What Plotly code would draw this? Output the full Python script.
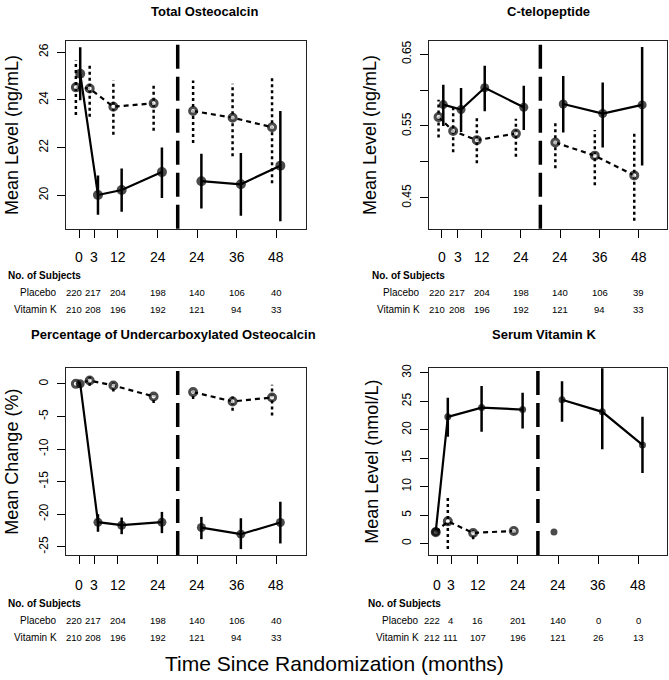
import plotly.graph_objects as go

# ---------------- data ----------------
month_labels = ["0", "3", "12", "24", "24", "36", "48"]

# Total osteocalcin (ng/mL)
oc_placebo = [24.52, 24.47, 23.71, 23.85, 23.53, 23.25, 22.85]
oc_placebo_lo = [23.36, 23.29, 22.53, 22.70, 22.19, 21.63, 20.50]
oc_placebo_hi = [25.64, 25.53, 24.81, 24.67, 24.81, 24.67, 25.02]
oc_vitk = [25.09, 20.01, 20.22, 20.97, 20.59, 20.46, 21.24]
oc_vitk_lo = [23.98, 19.18, 19.31, 19.88, 19.45, 19.14, 18.91]
oc_vitk_hi = [26.20, 20.83, 21.12, 22.00, 21.74, 21.77, 23.53]
oc_n_placebo = [220, 217, 204, 198, 140, 106, 40]
oc_n_vitk = [210, 208, 196, 192, 121, 94, 33]

# C-telopeptide (ng/mL)
ctx_placebo = [0.5624, 0.5431, 0.5303, 0.5394, 0.5270, 0.5087, 0.4812]
ctx_placebo_lo = [0.5340, 0.5133, 0.4982, 0.5073, 0.4913, 0.4674, 0.4179]
ctx_placebo_hi = [0.5867, 0.5752, 0.5615, 0.5600, 0.5560, 0.5445, 0.5431]
ctx_vitk = [0.5798, 0.5729, 0.6032, 0.5761, 0.5807, 0.5674, 0.5794]
ctx_vitk_lo = [0.5500, 0.5417, 0.5706, 0.5445, 0.5408, 0.5202, 0.4950]
ctx_vitk_hi = [0.6073, 0.6028, 0.6339, 0.6060, 0.6197, 0.6106, 0.6600]
ctx_n_placebo = [220, 217, 204, 198, 140, 106, 39]
ctx_n_vitk = [210, 208, 196, 192, 121, 94, 33]

# Percentage of undercarboxylated osteocalcin (mean change, %)
uc_placebo = [0.0, 0.51, -0.25, -1.93, -1.27, -2.70, -2.09]
uc_placebo_lo = [None, -0.30, -1.17, -2.95, -2.34, -4.12, -4.84]
uc_placebo_hi = [None, 1.12, 0.36, -1.17, -0.51, -1.93, -0.15]
uc_vitk = [0.0, -21.23, -21.69, -21.23, -22.05, -23.07, -21.28]
uc_vitk_lo = [None, -22.70, -23.07, -22.91, -23.83, -25.36, -24.49]
uc_vitk_hi = [None, -20.00, -20.52, -19.65, -20.42, -20.62, -18.08]
uc_n_placebo = [220, 217, 204, 198, 140, 106, 40]
uc_n_vitk = [210, 208, 196, 192, 121, 94, 33]

# Serum vitamin K (nmol/L)
svk_placebo = [2.00, 3.90, 1.87, 2.21, 2.04, None, None]
svk_placebo_lo = [None, -0.98, 0.77, 1.80, None, None, None]
svk_placebo_hi = [None, 8.44, 2.50, 2.60, None, None, None]
svk_vitk = [2.09, 22.27, 23.90, 23.55, 25.29, 23.15, 17.34]
svk_vitk_lo = [None, 18.79, 19.66, 20.23, 21.40, 16.57, 12.38]
svk_vitk_hi = [None, 25.64, 27.68, 26.51, 28.55, 31.20, 22.27]
svk_n_placebo = [222, 4, 16, 201, 140, 0, 0]
svk_n_vitk = [212, 111, 107, 196, 121, 26, 13]

# ---------------- layout helpers ----------------
W, H = 669, 680
FONT = "Liberation Sans, Arial, Helvetica, sans-serif"


def px_x(p):
    return p / W


def px_y(p):
    return 1 - p / H


panels = [
    dict(title="Total Osteocalcin", title_x=204, title_y=8,
         ytitle="Mean Level (ng/mL)", ytitle_x=12,
         pl=oc_placebo, pl_lo=oc_placebo_lo, pl_hi=oc_placebo_hi,
         vk=oc_vitk, vk_lo=oc_vitk_lo, vk_hi=oc_vitk_hi,
         n_pl=oc_n_placebo, n_vk=oc_n_vitk,
         xdom=(66, 306), ydom=(37.5, 226), xlab_y=254.5,
         pos=[0, 0.38, 0.98, 2, 3, 4, 5], xrange=[-0.33, 5.75],
         pl_off=[-0.08] + [-0.11] * 6, vk_off=[0.03] + [0.1] * 6,
         yrange=[18.6, 26.45], yticks=[20, 22, 24, 26], ytext=["20", "22", "24", "26"],
         vk_size=[10] * 7, pl_size=[7] * 7, pl_fill=["white"] * 7,
         table_left=6, table_right=58.5, table_y=(273.5, 290.7, 307.5)),
    dict(title="C-telopeptide", title_x=548, title_y=8,
         ytitle="Mean Level (ng/mL)", ytitle_x=370,
         pl=ctx_placebo, pl_lo=ctx_placebo_lo, pl_hi=ctx_placebo_hi,
         vk=ctx_vitk, vk_lo=ctx_vitk_lo, vk_hi=ctx_vitk_hi,
         n_pl=ctx_n_placebo, n_vk=ctx_n_vitk,
         xdom=(428.5, 667), ydom=(37.5, 226), xlab_y=254.5,
         pos=[0, 0.41, 1.01, 2, 3, 4, 5], xrange=[-0.335, 5.71],
         pl_off=[-0.08] + [-0.12] * 6, vk_off=[0.04] + [0.08] * 6,
         yrange=[0.407, 0.668], yticks=[0.45, 0.5, 0.55, 0.6, 0.65],
         ytext=["0.45", "", "0.55", "", "0.65"],
         vk_size=[9] * 7, pl_size=[7] * 7, pl_fill=["white"] * 7,
         table_left=370, table_right=422, table_y=(273.5, 290.7, 307.5)),
    dict(title="Percentage of Undercarboxylated Osteocalcin", title_x=174, title_y=332,
         ytitle="Mean Change (%)", ytitle_x=12,
         pl=uc_placebo, pl_lo=uc_placebo_lo, pl_hi=uc_placebo_hi,
         vk=uc_vitk, vk_lo=uc_vitk_lo, vk_hi=uc_vitk_hi,
         n_pl=uc_n_placebo, n_vk=uc_n_vitk,
         xdom=(66, 306), ydom=(366.5, 554.3), xlab_y=584,
         pos=[0, 0.38, 0.98, 2, 3, 4, 5], xrange=[-0.33, 5.75],
         pl_off=[-0.08] + [-0.11] * 6, vk_off=[0.03] + [0.1] * 6,
         yrange=[-26.27, 2.38], yticks=[-25, -20, -15, -10, -5, 0],
         ytext=["-25", "-20", "-15", "-10", "-5", "0"],
         vk_size=[9] * 7, pl_size=[7] * 7, pl_fill=["white"] * 7,
         table_left=6, table_right=58.5, table_y=(602.7, 620, 637.3)),
    dict(title="Serum Vitamin K", title_x=544, title_y=332,
         ytitle="Mean Level (nmol/L)", ytitle_x=372,
         pl=svk_placebo, pl_lo=svk_placebo_lo, pl_hi=svk_placebo_hi,
         vk=svk_vitk, vk_lo=svk_vitk_lo, vk_hi=svk_vitk_hi,
         n_pl=svk_n_placebo, n_vk=svk_n_vitk,
         xdom=(428.5, 667), ydom=(366.5, 554.3), xlab_y=584,
         pos=[0, 0.34, 1.0, 2, 3, 4, 5], xrange=[-0.22, 5.71],
         pl_off=[-0.04, -0.08, -0.11, -0.1, -0.1, -0.1, -0.1],
         vk_off=[-0.04, -0.08, 0.1, 0.12, 0.1, 0.1, 0.1],
         yrange=[-2.02, 30.8], yticks=[0, 5, 10, 15, 20, 25, 30],
         ytext=["0", "5", "10", "15", "20", "25", "30"],
         vk_size=[9, 7, 7, 7, 7, 7, 7], pl_size=[7, 7, 7, 7, 4, 7, 7],
         pl_fill=["white", "white", "white", "white", "black", "white", "white"],
         table_left=365.5, table_right=421, table_y=(602.7, 620, 637.3)),
]

fig = go.Figure()
annotations = []
shapes = []


def seg_line(xs, ys):
    """Join the two study phases (indices 0-3 and 4-6) with a break."""
    ox, oy = [], []
    for i, (x, y) in enumerate(zip(xs, ys)):
        if i == 4:
            ox.append(None)
            oy.append(None)
        ox.append(x)
        oy.append(y)
    return ox, oy


def bars(xs, lo, hi):
    ox, oy = [], []
    for x, a, b in zip(xs, lo, hi):
        if a is None or b is None:
            continue
        ox += [x, x, None]
        oy += [a, b, None]
    return ox, oy


for k, p in enumerate(panels, start=1):
    xa = "x" if k == 1 else f"x{k}"
    ya = "y" if k == 1 else f"y{k}"
    xpl = [a + b for a, b in zip(p["pos"], p["pl_off"])]
    xvk = [a + b for a, b in zip(p["pos"], p["vk_off"])]

    # error bars (drawn underneath the symbols)
    bx, by = bars(xpl, p["pl_lo"], p["pl_hi"])
    fig.add_trace(go.Scatter(x=bx, y=by, mode="lines", xaxis=xa, yaxis=ya,
                             line=dict(color="black", width=2.5, dash="3px,3px"),
                             hoverinfo="skip", showlegend=False))
    bx, by = bars(xvk, p["vk_lo"], p["vk_hi"])
    fig.add_trace(go.Scatter(x=bx, y=by, mode="lines", xaxis=xa, yaxis=ya,
                             line=dict(color="black", width=2.5),
                             hoverinfo="skip", showlegend=False))
    # connecting lines
    lx, ly = seg_line(xpl, p["pl"])
    fig.add_trace(go.Scatter(x=lx, y=ly, mode="lines", xaxis=xa, yaxis=ya,
                             line=dict(color="black", width=2.2, dash="5px,4px"),
                             hoverinfo="skip", showlegend=False))
    lx, ly = seg_line(xvk, p["vk"])
    fig.add_trace(go.Scatter(x=lx, y=ly, mode="lines", xaxis=xa, yaxis=ya,
                             line=dict(color="black", width=2.2),
                             hoverinfo="skip", showlegend=False))
    # markers
    fig.add_trace(go.Scatter(x=xpl, y=p["pl"], mode="markers", xaxis=xa, yaxis=ya,
                             marker=dict(symbol="circle", size=p["pl_size"], color=p["pl_fill"],
                                         line=dict(color="black", width=3)),
                             name="Placebo", showlegend=False))
    fig.add_trace(go.Scatter(x=xvk, y=p["vk"], mode="markers", xaxis=xa, yaxis=ya,
                             marker=dict(symbol="circle", size=p["vk_size"], color="black",
                                         line=dict(width=0)),
                             name="Vitamin K", showlegend=False))

    # axes
    xkey = "xaxis" if k == 1 else f"xaxis{k}"
    ykey = "yaxis" if k == 1 else f"yaxis{k}"
    fig.layout[xkey] = dict(
        domain=[px_x(p["xdom"][0]), px_x(p["xdom"][1])], range=p["xrange"],
        anchor=ya, tickmode="array", tickvals=p["pos"], ticktext=month_labels,
        showticklabels=False,
        ticks="outside", ticklen=8, tickwidth=1, tickcolor="black",
        showline=True, linecolor="#222", linewidth=1, mirror=True,
        showgrid=False, zeroline=False, fixedrange=True)
    fig.layout[ykey] = dict(
        domain=[px_y(p["ydom"][1]), px_y(p["ydom"][0])], range=p["yrange"],
        anchor=xa, tickmode="array", tickvals=p["yticks"], ticktext=p["ytext"],
        ticks="outside", ticklen=8, tickwidth=1, tickcolor="black", tickangle=-90,
        showline=True, linecolor="#222", linewidth=1, mirror=True,
        showgrid=False, zeroline=False, ticklabelstandoff=4,
        tickfont=dict(family=FONT, size=12, color="black"), fixedrange=True)

    # x tick labels placed well below the tick marks
    for j, lab in enumerate(month_labels):
        annotations.append(dict(text=lab, xref=xa, yref="paper", x=p["pos"][j],
                                y=px_y(p["xlab_y"]), showarrow=False,
                                xanchor="center", yanchor="middle",
                                font=dict(family=FONT, size=14, color="black")))

    # phase separator
    shapes.append(dict(type="line", xref=xa, yref=f"{ya} domain", x0=2.5, x1=2.5,
                       y0=0, y1=1, line=dict(color="black", width=3.5, dash="24px,8px")))

    # panel title
    annotations.append(dict(text=f"<b>{p['title']}</b>", xref="paper", yref="paper",
                            x=px_x(p["title_x"]), y=px_y(p["title_y"]), showarrow=False,
                            xanchor="center", yanchor="middle",
                            font=dict(family=FONT, size=13, color="black")))
    # y title
    annotations.append(dict(text=p["ytitle"], xref="paper", yref="paper", textangle=-90,
                            x=px_x(p["ytitle_x"]),
                            y=px_y((p["ydom"][0] + p["ydom"][1]) / 2), showarrow=False,
                            xanchor="center", yanchor="middle",
                            font=dict(family=FONT, size=18, color="black")))
    # subject table
    ty = p["table_y"]
    annotations.append(dict(text="<b>No. of Subjects</b>", xref="paper", yref="paper",
                            x=px_x(p["table_left"]), y=px_y(ty[0]), showarrow=False,
                            xanchor="left", yanchor="middle",
                            font=dict(family=FONT, size=10, color="black")))
    for row_label, vals, yy in (("Placebo", p["n_pl"], ty[1]), ("Vitamin K", p["n_vk"], ty[2])):
        annotations.append(dict(text=row_label, xref="paper", yref="paper",
                                x=px_x(p["table_right"]), y=px_y(yy), showarrow=False,
                                xanchor="right", yanchor="middle",
                                font=dict(family=FONT, size=10, color="black")))
        for j, v in enumerate(vals):
            shift = -5 if j == 0 else (-1 if j == 1 else 0)
            annotations.append(dict(text=str(v), xref=xa, yref="paper",
                                    x=p["pos"][j], xshift=shift, y=px_y(yy), showarrow=False,
                                    xanchor="center", yanchor="middle",
                                    font=dict(family=FONT, size=9.5, color="black")))

annotations.append(dict(text="Time Since Randomization (months)", xref="paper", yref="paper",
                        x=0.5, y=px_y(663), showarrow=False, xanchor="center", yanchor="middle",
                        font=dict(family=FONT, size=21, color="black")))

fig.update_layout(width=W, height=H, margin=dict(l=0, r=0, t=0, b=0),
                  paper_bgcolor="white", plot_bgcolor="white",
                  annotations=annotations, shapes=shapes, showlegend=False,
                  font=dict(family=FONT, color="black"))

fig.write_html("out.html", config={"displayModeBar": False},
               post_script="document.body.style.margin='0';document.body.style.padding='0';")
